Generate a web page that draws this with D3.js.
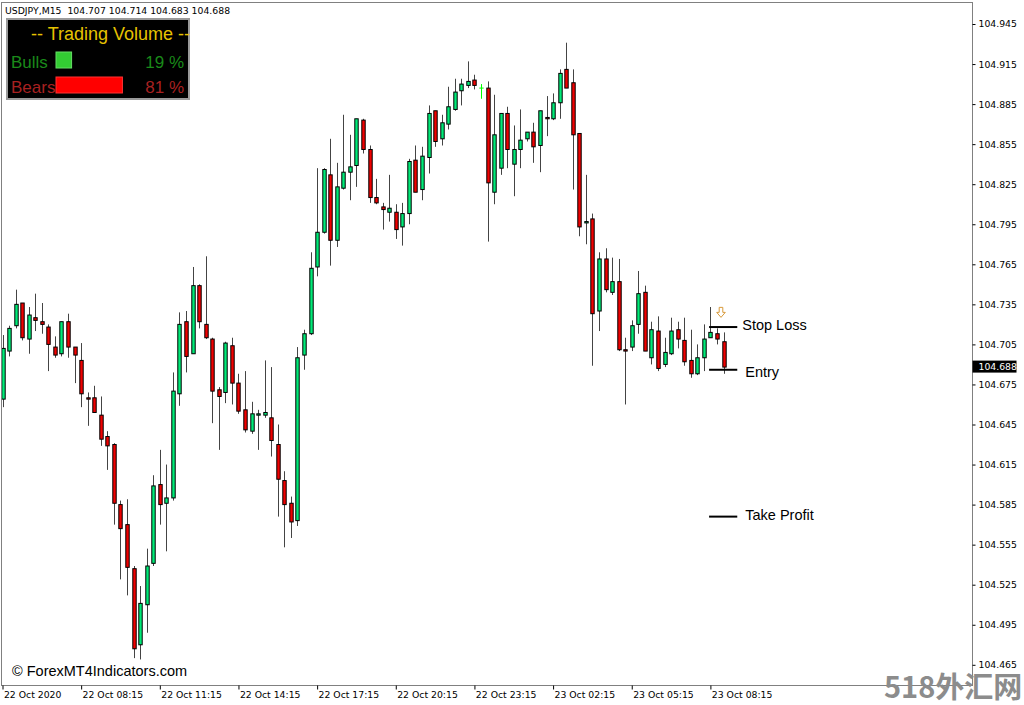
<!DOCTYPE html>
<html><head><meta charset="utf-8">
<script src="https://cdn.jsdelivr.net/npm/d3@7"></script>
<style>body{margin:0;background:#fff;} svg{display:block;}</style>
</head><body>
<svg id="c" width="1024" height="705"></svg>
<script>
const openP  = [104.664,104.700,104.719,104.736,104.709,104.725,104.722,104.718,104.703,104.698,104.722,104.703,104.693,104.665,104.665,104.652,104.636,104.630,104.585,104.570,104.537,104.480,104.510,104.541,104.600,104.586,104.590,104.668,104.722,104.698,104.749,104.720,104.709,104.671,104.669,104.704,104.676,104.656,104.640,104.652,104.652,104.650,104.630,104.603,104.586,104.573,104.697,104.713,104.763,104.789,104.832,104.783,104.822,104.834,104.839,104.873,104.851,104.815,104.808,104.804,104.804,104.793,104.803,104.843,104.821,104.845,104.880,104.859,104.870,104.881,104.895,104.899,104.903,104.897,104.897,104.819,104.837,104.878,104.840,104.851,104.859,104.864,104.854,104.875,104.874,104.886,104.911,104.901,104.863,104.796,104.799,104.730,104.769,104.744,104.752,104.701,104.703,104.720,104.744,104.695,104.715,104.690,104.698,104.716,104.708,104.693,104.683,104.695,104.710,104.713,104.707];
const highP  = [104.712,104.719,104.746,104.736,104.733,104.743,104.736,104.720,104.711,104.722,104.728,104.703,104.706,104.669,104.674,104.666,104.640,104.631,104.588,104.589,104.539,104.524,104.552,104.607,104.626,104.615,104.684,104.729,104.730,104.763,104.750,104.771,104.710,104.673,104.707,104.710,104.683,104.685,104.662,104.656,104.693,104.688,104.645,104.610,104.591,104.703,104.716,104.774,104.837,104.837,104.859,104.841,104.877,104.862,104.874,104.874,104.854,104.829,104.811,104.832,104.810,104.811,104.844,104.854,104.853,104.884,104.880,104.877,104.898,104.904,104.904,104.917,104.907,104.900,104.902,104.892,104.878,104.883,104.869,104.881,104.864,104.871,104.880,104.891,104.893,104.911,104.931,104.911,104.863,104.832,104.803,104.774,104.777,104.770,104.769,104.710,104.723,104.760,104.749,104.722,104.726,104.710,104.725,104.722,104.725,104.716,104.705,104.720,104.733,104.717,104.714];
const lowP   = [104.658,104.696,104.717,104.708,104.698,104.715,104.713,104.685,104.695,104.696,104.695,104.676,104.658,104.644,104.654,104.629,104.611,104.570,104.529,104.517,104.470,104.469,104.489,104.539,104.570,104.550,104.588,104.659,104.684,104.698,104.717,104.709,104.646,104.626,104.661,104.660,104.653,104.639,104.638,104.626,104.650,104.621,104.576,104.553,104.560,104.569,104.686,104.712,104.756,104.788,104.764,104.778,104.821,104.813,104.823,104.848,104.811,104.810,104.791,104.797,104.784,104.779,104.795,104.819,104.813,104.833,104.853,104.854,104.866,104.880,104.884,104.897,104.896,104.889,104.782,104.810,104.832,104.837,104.816,104.837,104.857,104.841,104.834,104.861,104.873,104.874,104.897,104.821,104.786,104.780,104.689,104.715,104.744,104.742,104.700,104.660,104.700,104.713,104.700,104.690,104.685,104.688,104.697,104.702,104.689,104.680,104.682,104.685,104.710,104.705,104.683];
const closeP = [104.702,104.717,104.735,104.710,104.727,104.723,104.720,104.705,104.697,104.722,104.703,104.697,104.668,104.664,104.654,104.634,104.629,104.586,104.567,104.538,104.477,104.511,104.539,104.599,104.585,104.590,104.670,104.720,104.696,104.749,104.722,104.710,104.670,104.666,104.706,104.676,104.655,104.641,104.653,104.653,104.654,104.633,104.604,104.585,104.572,104.695,104.713,104.762,104.789,104.836,104.783,104.823,104.834,104.838,104.874,104.851,104.815,104.811,104.806,104.807,104.791,104.803,104.842,104.819,104.846,104.878,104.857,104.871,104.883,104.894,104.900,104.902,104.899,104.897,104.826,104.862,104.878,104.851,104.851,104.858,104.864,104.853,104.880,104.874,104.886,104.908,104.897,104.862,104.793,104.797,104.728,104.769,104.746,104.752,104.701,104.700,104.719,104.743,104.700,104.716,104.687,104.699,104.715,104.709,104.692,104.683,104.695,104.709,104.714,104.709,104.688];

const xTickIndex  = [0,12,24,36,48,60,72,84,96,108];
const xTickLabels = ["22 Oct 2020","22 Oct 08:15","22 Oct 11:15","22 Oct 14:15","22 Oct 17:15","22 Oct 20:15","22 Oct 23:15","23 Oct 02:15","23 Oct 05:15","23 Oct 08:15"];
const yTickValues = [104.465,104.495,104.525,104.555,104.585,104.615,104.645,104.675,104.705,104.735,104.765,104.795,104.825,104.855,104.885,104.915,104.945];

const levelNames  = ["Stop Loss","Entry","Take Profit"];
const levelPrices = [104.718,104.686,104.576];
const arrowBar = 110, arrowPrice = 104.729;

const volumeNames = ["Bulls","Bears"];
const volumePct   = [19,81];

const headerText = "USDJPY,M15  104.707 104.714 104.683 104.688";
const lastPrice = 104.688;

const svg = d3.select("#c");
const W = 1024, H = 705;
const frame = {left:1.5, top:2.5, right:972.5, bottom:685.5};

const x = d3.scaleLinear().domain([0, 110]).range([2.5, 723.5]);
const y = d3.scaleLinear().domain([104.465, 104.945]).range([664.8, 24]);

svg.append("rect").attr("width",W).attr("height",H).attr("fill","#fff");

svg.append("clipPath").attr("id","plot").append("rect")
  .attr("x",frame.left).attr("y",frame.top)
  .attr("width",frame.right-frame.left).attr("height",frame.bottom-frame.top);

const data = openP.map((o,i)=>({i, o, h:highP[i], l:lowP[i], c:closeP[i]}));
const g = svg.append("g").attr("clip-path","url(#plot)");

g.selectAll("line.wick").data(data).join("line")
  .attr("x1",d=>Math.round(x(d.i))+0.5).attr("x2",d=>Math.round(x(d.i))+0.5)
  .attr("y1",d=>y(d.h)).attr("y2",d=>y(d.l))
  .attr("stroke",d=>d.o===d.c?"#00ff00":"#444").attr("stroke-width",1);

const bw = 3.4;
g.selectAll("rect.body").data(data.filter(d=>d.o!==d.c)).join("rect")
  .attr("x",d=>Math.round(x(d.i))+0.5-bw/2)
  .attr("y",d=>y(Math.max(d.o,d.c)))
  .attr("width",bw)
  .attr("height",d=>Math.max(0.8, Math.abs(y(d.o)-y(d.c))))
  .attr("fill",d=>d.c>d.o?"#00eb78":"#f00000")
  .attr("stroke","#000").attr("stroke-width",1);

g.selectAll("line.doji").data(data.filter(d=>d.o===d.c)).join("line")
  .attr("x1",d=>Math.round(x(d.i))+0.5-bw/2-0.5).attr("x2",d=>Math.round(x(d.i))+0.5+bw/2+0.5)
  .attr("y1",d=>y(d.o)).attr("y2",d=>y(d.o))
  .attr("stroke","#00ff00").attr("stroke-width",1);

svg.append("rect").attr("x",frame.left).attr("y",frame.top)
  .attr("width",frame.right-frame.left).attr("height",frame.bottom-frame.top)
  .attr("fill","none").attr("stroke","#808080").attr("stroke-width",1);

const yAxis = d3.axisRight(y).tickValues(yTickValues).tickSize(3).tickPadding(3).tickFormat(d3.format(".3f"));
const ya = svg.append("g").attr("transform",`translate(${frame.right},0)`).call(yAxis);
ya.select(".domain").remove();
ya.selectAll("line").attr("stroke","#000");
ya.selectAll("text").attr("font-family","DejaVu Sans").attr("font-size","9.3px").attr("fill","#000");

const xAxis = d3.axisBottom(x).tickValues(xTickIndex).tickSize(4).tickPadding(2).tickFormat((d,i)=>xTickLabels[i]);
const xa = svg.append("g").attr("transform",`translate(0,${frame.bottom})`).call(xAxis);
xa.select(".domain").remove();
xa.selectAll("line").attr("stroke","#000");
xa.selectAll("text").attr("font-family","DejaVu Sans").attr("font-size","9.3px").attr("fill","#000")
  .attr("text-anchor","start").attr("dx","0.1em");

const lp = svg.append("g").attr("transform",`translate(${frame.right},${y(lastPrice)})`);
lp.append("rect").attr("x",0).attr("y",-6.5).attr("width",44).attr("height",12).attr("fill","#000");
lp.append("text").attr("x",6).attr("y",0).attr("dy","0.34em").text(d3.format(".3f")(lastPrice))
  .attr("font-family","DejaVu Sans").attr("font-size","9.3px").attr("fill","#fff");

svg.append("text").attr("x",5).attr("y",13.5).text(headerText)
  .attr("font-family","DejaVu Sans").attr("font-size","9.3px").attr("fill","#000")
  .attr("xml:space","preserve");

const lv = svg.append("g");
lv.selectAll("line").data(levelPrices).join("line")
  .attr("x1",x(107.8)).attr("x2",x(112.1))
  .attr("y1",d=>y(d)).attr("y2",d=>y(d))
  .attr("stroke","#000").attr("stroke-width",2);
lv.selectAll("text").data(levelNames).join("text")
  .attr("x",(d,i)=>x(112.1)+ (i===0?5:8))
  .attr("y",(d,i)=>y(levelPrices[i]) + (i===1?2:-2))
  .attr("dy","0.35em")
  .text(d=>d)
  .attr("font-family","Liberation Sans, Arial").attr("font-size","14.5px").attr("fill","#000");

svg.append("path")
  .attr("transform",`translate(${x(arrowBar)-2.5},${y(arrowPrice)})`)
  .attr("d","M-1.8,-5 L1.8,-5 L1.8,0 L4.3,0 L0,5 L-4.3,0 L-1.8,0 Z")
  .attr("fill","#fff").attr("stroke","#d89a3a").attr("stroke-width",1);

const pn = svg.append("g");
pn.append("rect").attr("x",7).attr("y",19).attr("width",182).attr("height",80)
  .attr("fill","#000").attr("stroke","#9a9a9a").attr("stroke-width",2);
pn.append("text").attr("x",31).attr("y",40).text("-- Trading Volume --")
  .attr("font-family","Liberation Sans, Arial").attr("font-size","18px").attr("fill","#e6c300")
  .attr("xml:space","preserve");
const pctW = d3.scaleLinear().domain([0,100]).range([0,82]);
const volColors = ["#1a8a1a","#a82020"];
const barColors = ["#33cc33","#ff0000"];
const barStroke = ["#66dd66","#ff3333"];
const rowY = [68,93];
volumeNames.forEach((n,i)=>{
  pn.append("text").attr("x",11).attr("y",rowY[i]).text(n)
    .attr("font-family","Liberation Sans, Arial").attr("font-size","17px").attr("fill",volColors[i]);
  pn.append("rect").attr("x",56).attr("y",rowY[i]-16).attr("width",pctW(volumePct[i])).attr("height",16)
    .attr("fill",barColors[i]).attr("stroke",barStroke[i]).attr("stroke-width",1);
  pn.append("text").attr("x",184).attr("y",rowY[i]).attr("text-anchor","end").text(volumePct[i]+" %")
    .attr("font-family","Liberation Sans, Arial").attr("font-size","17px").attr("fill",volColors[i]);
});

svg.append("text").attr("x",12).attr("y",676).text("© ForexMT4Indicators.com")
  .attr("font-family","Liberation Sans, Arial").attr("font-size","14.5px").attr("fill","#000");
svg.append("text").attr("x",884).attr("y",698).text("518外汇网")
  .attr("font-family","Noto Sans CJK SC").attr("font-weight","bold").attr("font-size","29px").attr("fill","#8c8c8c");
</script>
</body></html>
